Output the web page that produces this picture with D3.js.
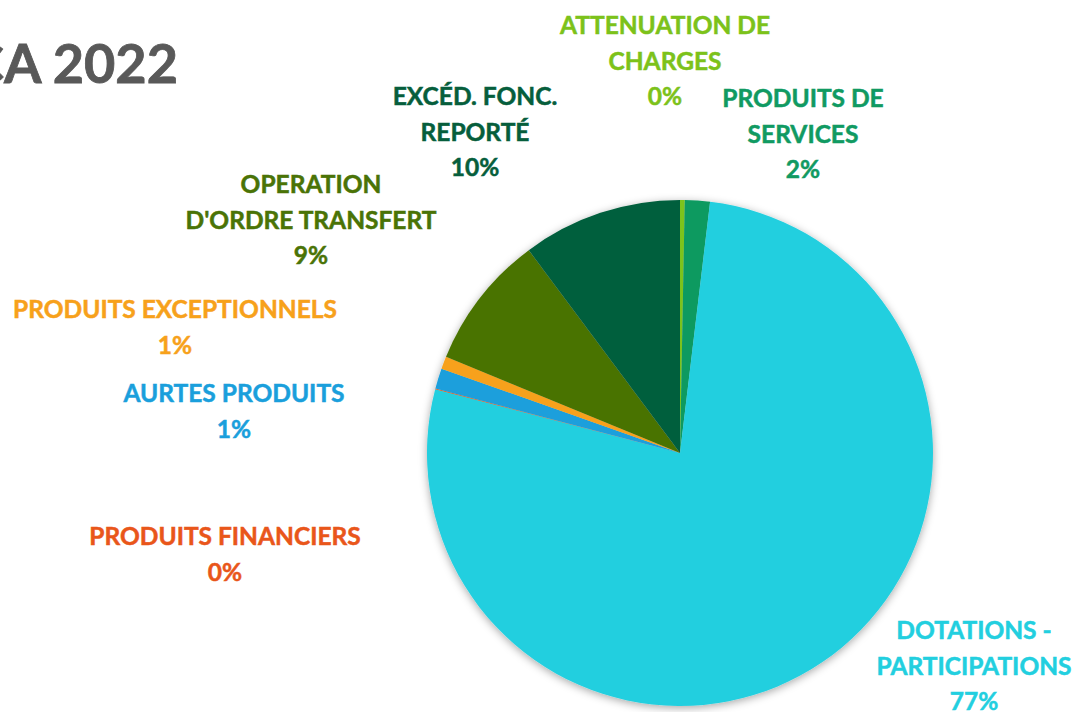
<!DOCTYPE html>
<html>
<head>
<meta charset="utf-8">
<script src="https://cdn.jsdelivr.net/npm/d3@7"></script>
<style>
  html, body { margin: 0; padding: 0; background: #fff; }
  svg { display: block; }
  .lbl { font-family: Lato, "Open Sans", sans-serif; font-weight: 700; }
</style>
</head>
<body>
<div id="chart"></div>
<script>
// Chart data (clockwise from 12 o'clock)
const categories = [
  'ATTENUATION DE CHARGES',
  'PRODUITS DE SERVICES',
  'DOTATIONS - PARTICIPATIONS',
  'PRODUITS FINANCIERS',
  'AURTES PRODUITS',
  'PRODUITS EXCEPTIONNELS',
  "OPERATION D'ORDRE TRANSFERT",
  'EXCÉD. FONC. REPORTÉ'
];
const values = [0.3, 1.6, 77.2, 0.05, 1.3, 0.8, 8.6, 10.2];

// How each label is broken into lines
const labelLines = [
  ['ATTENUATION DE', 'CHARGES'],
  ['PRODUITS DE', 'SERVICES'],
  ['DOTATIONS -', 'PARTICIPATIONS'],
  ['PRODUITS FINANCIERS'],
  ['AURTES PRODUITS'],
  ['PRODUITS EXCEPTIONNELS'],
  ['OPERATION', "D'ORDRE TRANSFERT"],
  ['EXCÉD. FONC.', 'REPORTÉ']
];

const colors = ['#7cc31a', '#0e9a61', '#22cfdf', '#e9581a', '#1a9fdc', '#f7a11b', '#4a7306', '#065e3c'];
const labelColors = ['#7cc21a', '#109a62', '#22cfdf', '#e9561a', '#1a9fdc', '#f7a11b', '#4a7306', '#065e3c'];

// Label anchor: center x, first baseline y (Excel "best fit" placement)
const labelAnchors = [
  [665, 34], [803, 107], [974, 639], [225, 545],
  [234, 402], [175, 318], [311, 193], [475, 105]
];

const width = 1078, height = 712;
const cx = 680, cy = 453, radius = 253;
const lineHeight = 35.5;

const svg = d3.select('#chart')
  .append('svg')
  .attr('width', width)
  .attr('height', height);

// Soft shadow under the pie
const defs = svg.append('defs');
const filter = defs.append('filter')
  .attr('id', 'shadow')
  .attr('x', '-20%').attr('y', '-20%')
  .attr('width', '140%').attr('height', '140%');
filter.append('feDropShadow')
  .attr('dx', 0).attr('dy', 2)
  .attr('stdDeviation', 4)
  .attr('flood-color', '#000')
  .attr('flood-opacity', 0.35);

// Title, partly cut off on the left like the original
svg.append('text')
  .attr('class', 'lbl')
  .attr('x', 178)
  .attr('y', 83)
  .attr('text-anchor', 'end')
  .style('font-size', '54px')
  .style('fill', '#595959')
  .style('stroke', '#595959')
  .style('stroke-width', 0.8)
  .text('CA 2022');

const total = d3.sum(values);
const pie = d3.pie().sort(null).value(d => d.value);
const arc = d3.arc().innerRadius(0).outerRadius(radius);
const data = categories.map((c, i) => ({ name: c, value: values[i], i }));

const g = svg.append('g')
  .attr('transform', `translate(${cx},${cy})`)
  .attr('filter', 'url(#shadow)');

g.selectAll('path')
  .data(pie(data))
  .enter()
  .append('path')
  .attr('d', arc)
  .attr('fill', d => colors[d.data.i]);

// Fit font size so Lato roughly matches the original Calibri widths
const probe = svg.append('text').attr('class', 'lbl')
  .style('font-size', '100px').text('PRODUITS EXCEPTIONNELS');
const fontSize = 100 * 324 / probe.node().getComputedTextLength();
probe.remove();

const fmt = d3.format('.0%');
const labels = svg.append('g');
data.forEach((d, i) => {
  const lines = labelLines[i].concat(fmt(d.value / total));
  const [x, y] = labelAnchors[i];
  const t = labels.append('text')
    .attr('class', 'lbl')
    .attr('text-anchor', 'middle')
    .style('font-size', fontSize + 'px')
    .style('fill', labelColors[i])
    .style('stroke', labelColors[i])
    .style('stroke-width', 0.5);
  lines.forEach((line, k) => {
    t.append('tspan')
      .attr('x', x)
      .attr('y', y + k * lineHeight)
      .text(line);
  });
});
</script>
</body>
</html>
